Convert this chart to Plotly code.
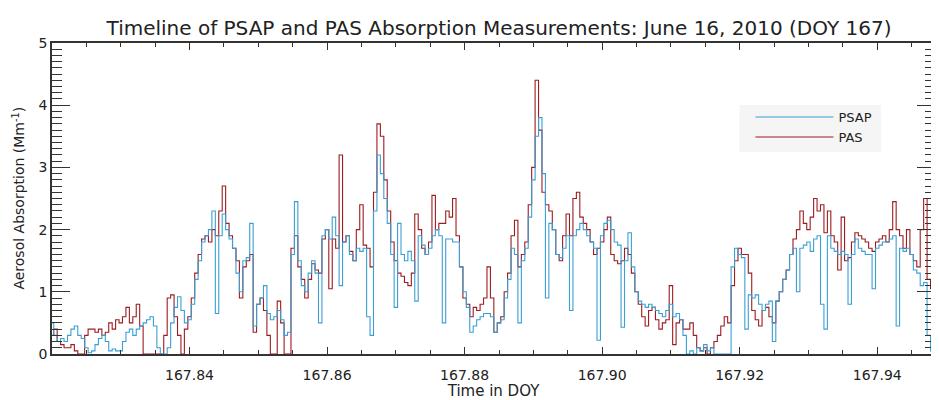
import numpy as np
import plotly.graph_objects as go

# Time axis: regular samples in day-of-year
t_start = 167.82
t_step = 0.0005
n_samples = 257
time_doy = t_start + t_step * np.arange(n_samples)

# PSAP absorption (Mm^-1)
psap = [
    0.5, 0.3, 0.2, 0.25, 0.2,
    0.3, 0.4, 0.45, 0.3, 0.25,
    0.1, 0.02, 0.05, 0.15, 0.25,
    0.3, 0.2, 0.05, 0.08, 0.05,
    0.05, 0.2, 0.35, 0.4, 0.3,
    0.4, 0.45, 0.5, 0.55, 0.6,
    0.45, 0.1, 0.0, 0.0, 0.1,
    0.5, 0.75, 0.92, 0.7, 0.5,
    0.55, 0.8, 1.2, 1.5, 1.8,
    1.9, 2.0, 2.3, 0.65, 1.9,
    2.25, 2.0, 1.85, 1.7, 1.3,
    1.0, 1.5, 1.55, 2.1, 0.45,
    0.8, 0.9, 1.1, 0.65, 0.55,
    0.6, 0.7, 0.55, 0.3, 0.35,
    1.6, 2.45, 1.5, 1.1, 1.0,
    1.3, 1.5, 1.3, 0.5, 1.9,
    2.0, 1.85, 2.2, 1.9, 1.1,
    1.8, 1.9, 1.6, 1.5, 1.7,
    1.65, 1.7, 0.6, 0.3, 2.3,
    3.2, 2.9, 2.5, 2.1, 1.6,
    0.75, 2.1, 1.6, 1.5, 1.65,
    1.5, 0.85, 1.9, 1.75, 1.6,
    1.7, 1.9, 2.0, 1.9, 0.5,
    1.85, 1.85, 1.8, 1.8, 1.4,
    1.0, 0.75, 0.35, 0.45, 0.55,
    0.6, 0.65, 0.65, 0.6, 0.35,
    0.5, 0.55, 0.9, 1.2, 1.7,
    1.6, 0.5, 1.5, 1.7, 2.2,
    2.8, 3.5, 3.8, 2.9, 0.9,
    2.1, 2.0, 1.6, 1.55, 1.7,
    1.9, 0.7, 1.9, 2.0, 2.1,
    2.0, 1.9, 1.8, 1.7, 0.22,
    1.9, 2.1, 2.15, 2.0, 1.8,
    1.75, 0.43, 1.5, 1.95, 1.4,
    1.0, 0.85, 0.8, 0.75, 0.8,
    0.75, 0.7, 0.65, 0.6, 0.7,
    0.8, 0.6, 0.65, 0.55, 0.3,
    0.0, 0.05, 0.0, 0.1, 0.05,
    0.15, 0.05, 0.1, 0.0, 0.0,
    0.0, 0.0, 0.0, 1.4, 1.7,
    1.6, 1.55, 0.4, 0.95, 0.9,
    0.95, 0.8, 0.7, 0.8, 0.85,
    0.2, 0.85, 1.0, 1.2, 1.35,
    1.6, 1.7, 1.0, 1.7, 1.75,
    1.8, 1.65, 1.85, 1.9, 0.8,
    0.4, 1.9, 1.7, 1.65, 1.6,
    1.65, 1.6, 0.8, 1.6, 1.85,
    1.7, 1.65, 1.6, 1.6, 1.05,
    1.7, 1.75, 1.8, 1.8, 1.85,
    1.9, 0.45, 1.7, 1.65, 1.7,
    1.6, 1.35, 1.3, 1.1, 1.15,
    0.3, 0.05,
]

# PAS absorption (Mm^-1)
pas = [
    0.3, 0.4, 0.2, 0.15, 0.1,
    0.1, 0.15, 0.05, 0.0, 0.0,
    0.3, 0.4, 0.4, 0.35, 0.4,
    0.3, 0.35, 0.5, 0.4, 0.55,
    0.5, 0.6, 0.75, 0.5, 0.6,
    0.8, 0.45, 0.0, 0.0, 0.0,
    0.0, 0.0, 0.0, 0.3, 0.9,
    0.95, 0.6, 0.3, 0.0, 0.4,
    0.6, 0.9, 1.3, 1.6, 1.85,
    1.9, 1.8, 2.0, 1.9, 2.3,
    2.7, 2.1, 1.9, 1.7, 1.5,
    0.9, 1.4, 1.5, 1.6, 0.35,
    0.8, 0.9, 0.7, 0.3, 0.0,
    0.0, 0.85, 0.5, 0.0, 0.0,
    1.7, 1.9, 1.4, 1.2, 0.9,
    1.2, 1.45, 1.35, 1.3, 1.85,
    2.0, 1.05, 1.85, 1.7, 3.2,
    1.8, 1.9, 1.65, 1.5, 2.0,
    2.4, 1.75, 1.7, 1.4, 2.6,
    3.7, 3.5, 2.8, 2.3, 1.8,
    1.5, 1.3, 1.25, 1.15, 1.1,
    1.3, 2.25, 2.0, 1.7, 1.6,
    1.8, 2.55, 2.0, 2.1, 2.1,
    2.3, 2.2, 2.5, 1.9, 1.4,
    0.9, 0.8, 0.6, 0.75, 0.7,
    0.8, 0.9, 1.4, 0.9, 0.35,
    0.5, 0.6, 1.0, 1.3, 1.9,
    2.15, 1.4, 1.6, 1.8, 2.4,
    3.0, 4.4, 3.6, 2.6, 2.4,
    2.3, 2.0, 1.6, 1.5, 1.9,
    2.25, 1.9, 2.5, 2.6, 2.2,
    2.1, 2.0, 1.8, 1.6, 1.7,
    1.8, 2.0, 2.2, 1.6, 1.5,
    1.45, 1.5, 1.7, 1.6, 1.3,
    1.0, 0.8, 0.6, 0.45, 0.7,
    0.75, 0.55, 0.4, 0.5, 0.55,
    1.1, 0.15, 0.5, 0.55, 0.4,
    0.4, 0.5, 0.3, 0.1, 0.05,
    0.1, 0.0, 0.1, 0.2, 0.3,
    0.45, 0.6, 0.5, 1.1, 1.5,
    1.7, 1.6, 1.6, 1.3, 0.7,
    0.55, 0.45, 0.7, 0.75, 0.6,
    0.5, 0.85, 1.0, 1.2, 1.35,
    1.6, 1.85, 2.0, 2.3, 2.1,
    2.0, 2.2, 2.5, 2.3, 2.4,
    1.95, 2.3, 1.9, 1.8, 1.35,
    2.2, 1.5, 1.55, 1.8, 1.95,
    1.9, 1.85, 1.8, 1.7, 1.65,
    1.8, 1.85, 1.9, 1.8, 2.0,
    2.45, 2.0, 1.9, 1.7, 2.0,
    1.6, 1.5, 1.4, 2.0, 2.5,
    1.2, 1.05,
]

x_ticks = [167.84, 167.86, 167.88, 167.90, 167.92, 167.94]
x_tick_labels = ["167.84", "167.86", "167.88", "167.90", "167.92", "167.94"]
y_ticks = [0, 1, 2, 3, 4, 5]

font_family = "DejaVu Sans, Liberation Sans, sans-serif"
axis_color = "#333333"

fig = go.Figure()
fig.add_trace(go.Scatter(
    x=time_doy, y=pas, name="PAS", mode="lines",
    line=dict(color="#9c1c1f", width=1.1, shape="hvh"),
))
fig.add_trace(go.Scatter(
    x=time_doy, y=psap, name="PSAP", mode="lines",
    line=dict(color="#3b9fd4", width=1.1, shape="hvh"),
))

# faint legend panel
fig.add_shape(
    type="rect", xref="paper", yref="paper",
    x0=0.7785, x1=0.939, y0=0.6495, y1=0.8006,
    fillcolor="#f5f5f5", line=dict(width=0), layer="below",
)

# y-axis title as a rotated annotation
fig.add_annotation(
    text="Aerosol Absorption (Mm<sup>-1</sup>)",
    xref="paper", yref="paper", x=-0.0384, y=0.5,
    xanchor="center", yanchor="middle", textangle=-90,
    showarrow=False, font=dict(size=14, family=font_family, color="#222222"),
)

fig.update_layout(
    width=931, height=392,
    margin=dict(l=44, r=2, t=35, b=46),
    paper_bgcolor="white",
    plot_bgcolor="white",
    font=dict(family=font_family, color="#222222", size=13),
    title=dict(
        text="Timeline of PSAP and PAS Absorption Measurements: June 16, 2010 (DOY 167)",
        x=0.5274, xanchor="center", xref="container",
        y=0.949, yanchor="middle", yref="container",
        font=dict(size=20, family=font_family, color="#222222"),
    ),
    showlegend=True,
    legend=dict(
        x=0.791, y=0.81, xanchor="left", yanchor="top",
        traceorder="reversed",
        bgcolor="rgba(0,0,0,0)", borderwidth=0,
        itemwidth=78,
        font=dict(size=13, family=font_family, color="#222222"),
        tracegroupgap=0,
    ),
)

fig.update_xaxes(
    range=[167.82, 167.9484],
    tickvals=x_ticks, ticktext=x_tick_labels,
    ticks="inside", ticklen=7, tickcolor=axis_color, tickwidth=1,
    minor=dict(dtick=0.005, ticks="inside", ticklen=4, tickcolor=axis_color),
    showline=True, linecolor=axis_color, linewidth=1.5, mirror="ticks",
    showgrid=False, zeroline=False,
    tickfont=dict(size=14),
    ticklabelstandoff=7,
    title=dict(text="Time in DOY", font=dict(size=15), standoff=0),
)
fig.update_yaxes(
    range=[0, 5],
    tickvals=y_ticks,
    ticks="inside", ticklen=18, tickcolor=axis_color, tickwidth=1,
    minor=dict(dtick=0.1, ticks="inside", ticklen=10, tickcolor=axis_color),
    showline=True, linecolor=axis_color, linewidth=1.5, mirror="ticks",
    showgrid=False, zeroline=False,
    tickfont=dict(size=14),
)

fig.write_html("out.html")
